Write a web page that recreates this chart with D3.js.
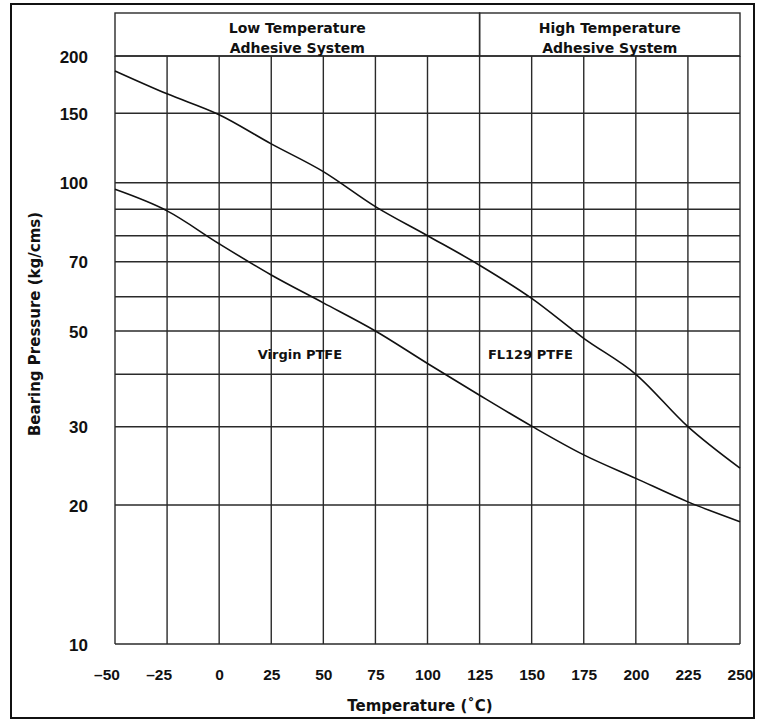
<!DOCTYPE html>
<html>
<head>
<meta charset="utf-8">
<script src="https://cdn.jsdelivr.net/npm/d3@7"></script>
<style>
  body { margin: 0; background: #fff; }
  text { font-family: "DejaVu Sans", Verdana, sans-serif; font-weight: bold; fill: #111; }
</style>
</head>
<body>
<div class="container"></div>
<script>
const WIDTH = 758;
const HEIGHT = 728;

var temps = [-50, -25, 0, 25, 50, 75, 100, 125, 150, 175, 200, 225, 250];
var fl129 = [187, 167, 149, 128, 108, 91, 80, 69, 59.5, 48.3, 40, 30, 24.7];
var virgin = [97.5, 89.4, 76.9, 66.2, 58.2, 50, 42.5, 36, 30.1, 26.4, 23.4, 20.4, 18.8];

var yTickLabels = [10, 20, 30, 50, 70, 100, 150, 200];
var yGridValues = [10, 20, 30, 40, 50, 60, 70, 80, 90, 100, 150, 200];

var headers = [
    {from: -50, to: 125, lines: ["Low Temperature", "Adhesive System"]},
    {from: 125, to: 250, lines: ["High Temperature", "Adhesive System"]}
];

var seriesLabels = [
    {name: "Virgin PTFE", t: 18.5, p: 43.6},
    {name: "FL129 PTFE", t: 129, p: 43.6}
];

var load = function(){
    var svg = d3.select(".container")
        .append("svg")
        .attr("width", WIDTH)
        .attr("height", HEIGHT);

    // outer frame
    svg.append("rect")
        .attr("x", 11).attr("y", 4)
        .attr("width", 743).attr("height", 714)
        .attr("fill", "none")
        .attr("stroke", "#111")
        .attr("stroke-width", 2);

    var x = d3.scaleLinear()
        .domain([-50, 250])
        .range([115, 740]);

    // the printed pressure axis is not a true log scale, so calibrate it piecewise
    var y = d3.scaleLinear()
        .domain(yGridValues)
        .range([644, 505, 426.7, 374.3, 331, 296.7, 261.7, 235.7, 209.3, 182.7, 113.3, 56]);

    var grid = svg.append("g")
        .attr("stroke", "#2a2a2a")
        .attr("stroke-width", 1.4);

    grid.selectAll("line.v")
        .data(temps)
        .enter()
        .append("line")
        .attr("class", "v")
        .attr("x1", function(d){ return x(d); })
        .attr("x2", function(d){ return x(d); })
        .attr("y1", y(200))
        .attr("y2", y(10));

    grid.selectAll("line.h")
        .data(yGridValues)
        .enter()
        .append("line")
        .attr("class", "h")
        .attr("x1", x(-50))
        .attr("x2", x(250))
        .attr("y1", function(d){ return y(d); })
        .attr("y2", function(d){ return y(d); });

    // header boxes
    var head = svg.selectAll("g.header")
        .data(headers)
        .enter()
        .append("g")
        .attr("class", "header");

    head.append("rect")
        .attr("x", function(d){ return x(d.from); })
        .attr("y", 13)
        .attr("width", function(d){ return x(d.to) - x(d.from); })
        .attr("height", y(200) - 13)
        .attr("fill", "none")
        .attr("stroke", "#2a2a2a")
        .attr("stroke-width", 1.4);

    head.selectAll("text")
        .data(function(d){ return d.lines.map(function(l, i){ return {text: l, i: i, cx: (x(d.from) + x(d.to)) / 2}; }); })
        .enter()
        .append("text")
        .attr("x", function(d){ return d.cx; })
        .attr("y", function(d){ return 33 + d.i * 19.5; })
        .attr("text-anchor", "middle")
        .style("font-size", "14px")
        .text(function(d){ return d.text; });

    // axes
    var xAxis = d3.axisBottom(x)
        .tickValues(temps)
        .tickSize(0)
        .tickPadding(0)
        .tickFormat(function(d){ return d < 0 ? "\u2013" + Math.abs(d) : d; });

    var gx = svg.append("g")
        .attr("transform", "translate(0," + y(10) + ")")
        .call(xAxis);
    gx.select(".domain").remove();
    gx.selectAll("text")
        .attr("y", 36)
        .attr("dy", 0)
        .attr("dx", function(d){ return d < 0 ? -8.5 : 0; })
        .style("font-family", "'Liberation Sans', Arial, sans-serif")
        .style("font-size", "15.5px")
        .attr("fill", "#111");

    var yAxis = d3.axisLeft(y)
        .tickValues(yTickLabels)
        .tickSize(0)
        .tickPadding(27)
        .tickFormat(d3.format("d"));

    var gy = svg.append("g")
        .attr("transform", "translate(" + x(-50) + ",0)")
        .call(yAxis);
    gy.select(".domain").remove();
    gy.selectAll("text")
        .attr("dy", "0.36em")
        .style("font-family", "'Liberation Sans', Arial, sans-serif")
        .style("font-size", "17px")
        .attr("fill", "#111");

    // axis titles
    svg.append("text")
        .attr("x", 420)
        .attr("y", 711)
        .attr("text-anchor", "middle")
        .style("font-size", "15px")
        .text("Temperature (\u02DAC)");

    svg.append("text")
        .attr("transform", "translate(40,324) rotate(-90)")
        .attr("text-anchor", "middle")
        .style("font-size", "15px")
        .text("Bearing Pressure (kg/cms)");

    // curves
    var line = d3.line()
        .x(function(d){ return x(d.t); })
        .y(function(d){ return y(d.p); })
        .curve(d3.curveMonotoneX);

    var series = [fl129, virgin].map(function(vals){
        return temps.map(function(t, i){ return {t: t, p: vals[i]}; });
    });

    svg.selectAll("path.curve")
        .data(series)
        .enter()
        .append("path")
        .attr("class", "curve")
        .attr("d", line)
        .attr("fill", "none")
        .attr("stroke", "#111")
        .attr("stroke-width", 1.6);

    svg.selectAll("text.series")
        .data(seriesLabels)
        .enter()
        .append("text")
        .attr("class", "series")
        .attr("x", function(d){ return x(d.t); })
        .attr("y", function(d){ return y(d.p); })
        .style("font-size", "13px")
        .text(function(d){ return d.name; });
};

window.onload = load;
</script>
</body>
</html>
